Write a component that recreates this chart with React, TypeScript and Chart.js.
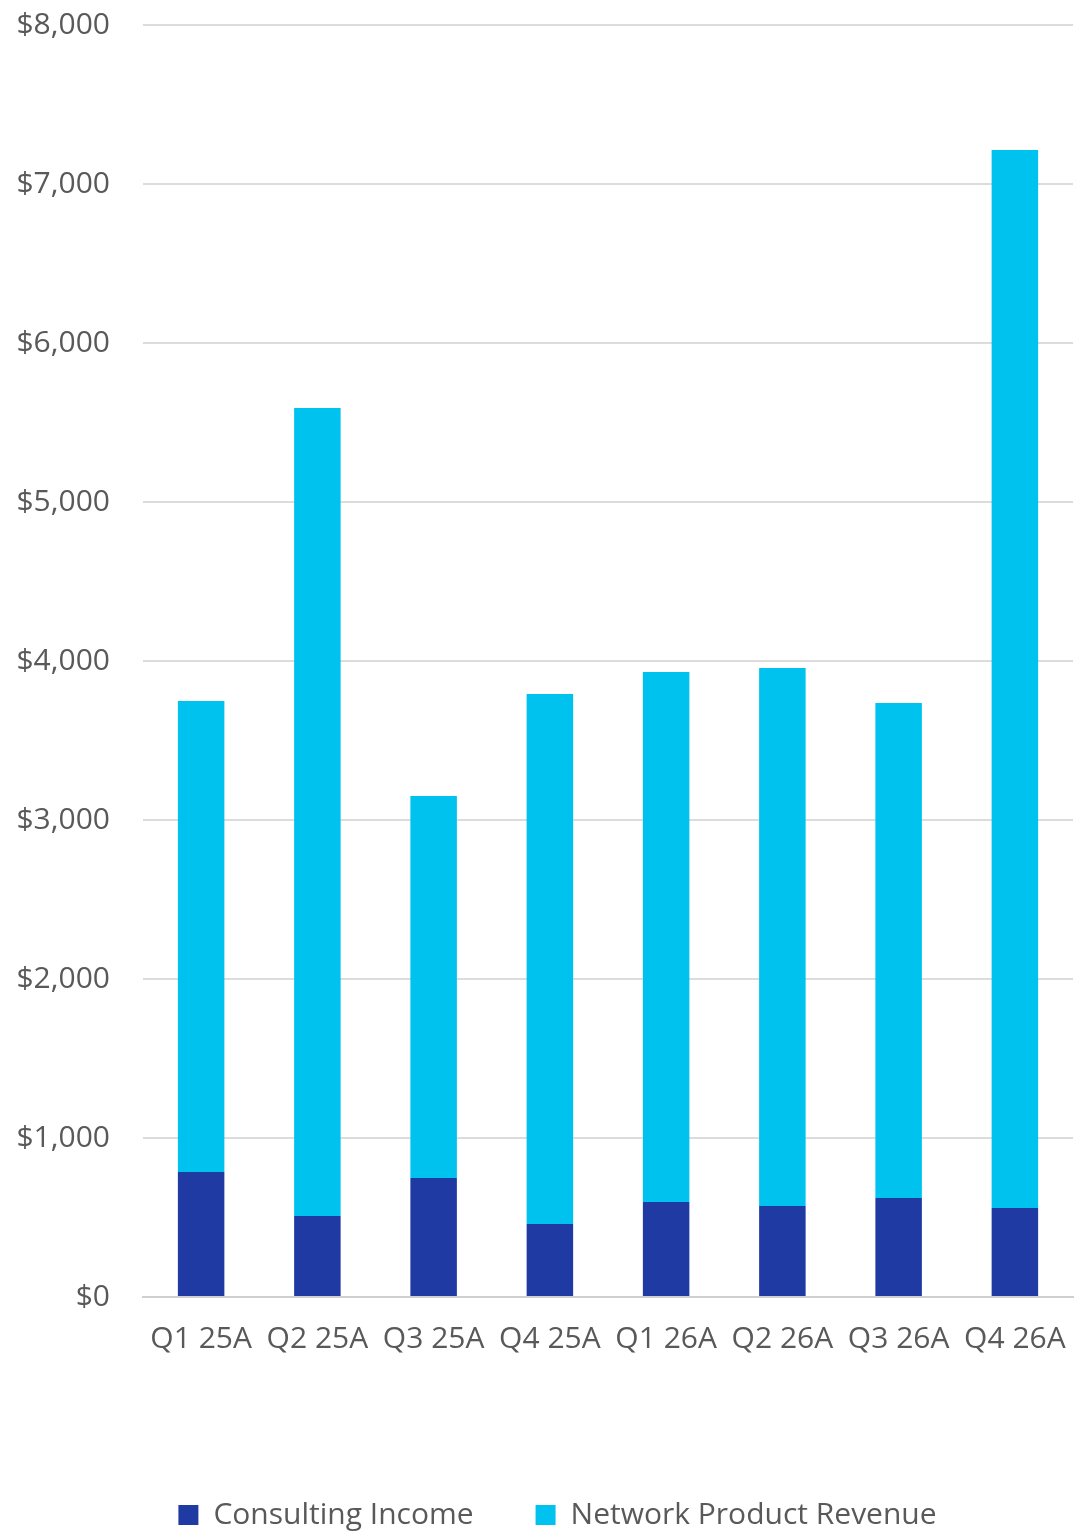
import React, { useEffect, useRef } from "react";
import { Chart, registerables } from "chart.js";

Chart.register(...registerables);

const categories = ["Q1 25A", "Q2 25A", "Q3 25A", "Q4 25A", "Q1 26A", "Q2 26A", "Q3 26A", "Q4 26A"];
const consultingIncome = [786, 509, 748, 459, 597, 572, 623, 560];
const networkProductRevenue = [2962, 5082, 2403, 3333, 3334, 3384, 3113, 6654];
const yTicks = [0, 1000, 2000, 3000, 4000, 5000, 6000, 7000, 8000];

const FONT = "'Open Sans', sans-serif";
const TEXT = "#595959";

const legendShift = {
  id: "legendShift",
  afterLayout(chart: any) {
    const lg = chart.legend;
    if (lg) {
      lg.left += 21;
      lg.right += 21;
      lg.top += 3;
      lg.bottom += 3;
    }
  },
};

export default function App() {
  const ref = useRef<HTMLCanvasElement>(null);
  useEffect(() => {
    if (!ref.current) return;
    const chart = new Chart(ref.current, {
      type: "bar",
      data: {
        labels: categories,
        datasets: [
          {
            label: "Consulting Income",
            data: consultingIncome,
            backgroundColor: "#1F3BA3",
            barPercentage: 0.4,
            categoryPercentage: 1,
          },
          {
            label: "Network Product Revenue",
            data: networkProductRevenue,
            backgroundColor: "#00C2EE",
            barPercentage: 0.4,
            categoryPercentage: 1,
          },
        ],
      },
      options: {
        responsive: false,
        animation: false,
        layout: { padding: { top: 25, right: 5, left: 0, bottom: 0 } },
        plugins: {
          tooltip: { enabled: false },
          legend: {
            position: "bottom",
            labels: {
              boxWidth: 20,
              boxHeight: 20,
              padding: 62,
              color: TEXT,
              font: { family: FONT, size: 30 },
            },
          },
        },
        scales: {
          x: {
            stacked: true,
            grid: { display: false, drawTicks: false },
            border: { display: true, color: "#d0d0d0", width: 2 },
            ticks: {
              color: TEXT,
              padding: 24,
              maxRotation: 0,
              autoSkip: false,
              font: { family: FONT, size: 30 },
            },
            afterFit(scale: any) {
              scale.height = 138;
              scale.paddingLeft = 0;
              scale.paddingRight = 0;
            },
          },
          y: {
            stacked: true,
            min: 0,
            max: 8000,
            afterBuildTicks(scale: any) {
              scale.ticks = yTicks.map((v) => ({ value: v }));
            },
            grid: { color: "#dcdcdc", lineWidth: 2, drawTicks: false },
            border: { display: false },
            ticks: {
              color: TEXT,
              padding: 33,
              font: { family: FONT, size: 30 },
              callback: (v: any) => "$" + Number(v).toLocaleString("en-US"),
            },
            afterFit(scale: any) {
              scale.width = 143;
              scale.paddingTop = 0;
              scale.paddingBottom = 0;
            },
          },
        },
      },
      plugins: [legendShift],
    });
    return () => chart.destroy();
  }, []);
  return (
    <div style={{ position: "absolute", left: 0, top: 0, width: 1078, height: 1537, background: "#fff" }}>
      <canvas ref={ref} width={1078} height={1537} style={{ display: "block" }} />
    </div>
  );
}
